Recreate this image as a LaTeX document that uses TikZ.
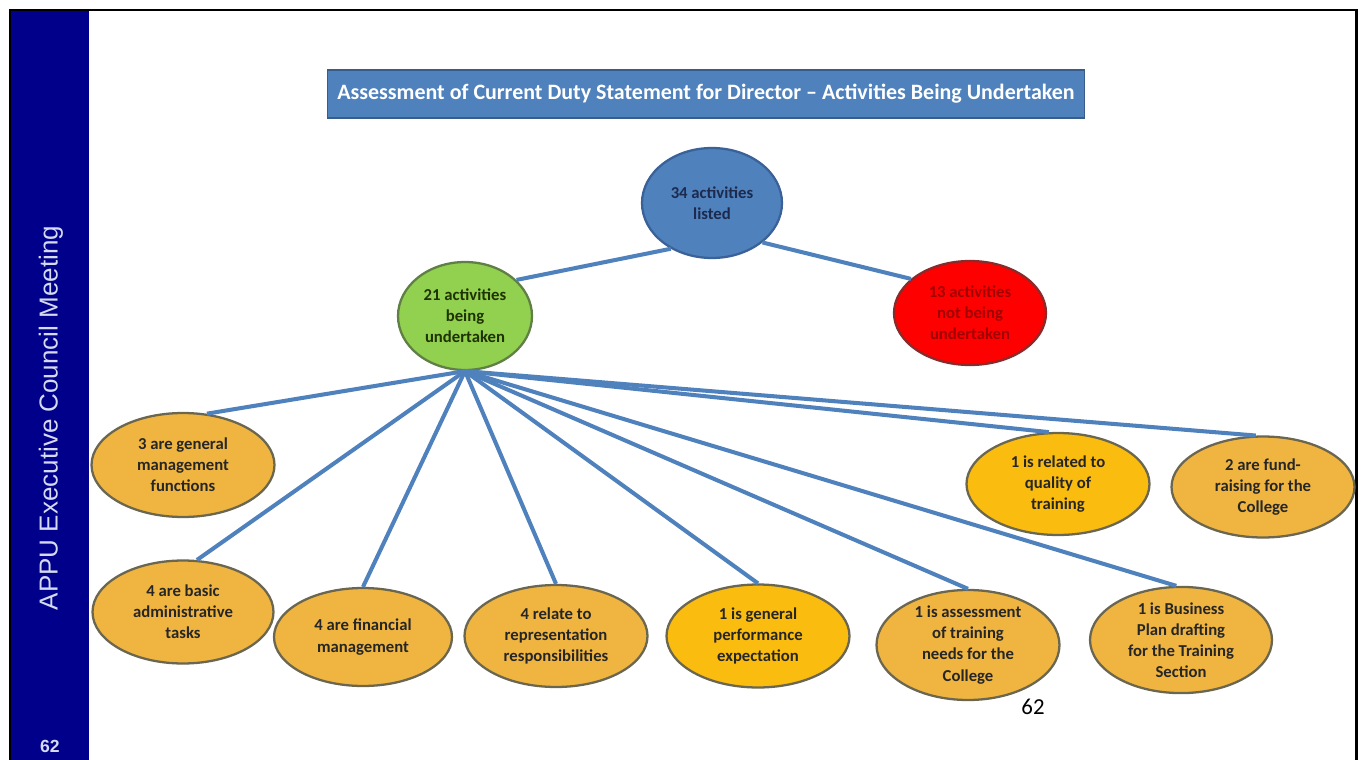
\documentclass[tikz,border=0pt]{standalone}
\usepackage{fontspec}
\setmainfont{Carlito}
\newfontfamily\sidefont{Liberation Sans}
\usepackage{tikz}
\usetikzlibrary{shapes.geometric}
\definecolor{sidenavy}{HTML}{00008B}
\definecolor{sidetext}{HTML}{D5DAF0}
\definecolor{titleblue}{HTML}{4F81BD}
\definecolor{titleedge}{HTML}{385D8A}
\definecolor{topedge}{HTML}{3A6298}
\definecolor{topink}{HTML}{1C2A4E}
\definecolor{donegreen}{HTML}{92D050}
\definecolor{doneedge}{HTML}{5F7F45}
\definecolor{doneink}{HTML}{1E3300}
\definecolor{notred}{HTML}{FF0000}
\definecolor{notedge}{HTML}{8B2A2A}
\definecolor{notink}{HTML}{A00000}
\definecolor{leafgold}{HTML}{F0B540}
\definecolor{leafbright}{HTML}{FBBC10}
\definecolor{leafedge}{HTML}{6A6650}

\begin{document}
\begin{tikzpicture}[x=0.02cm, y=-0.02cm,
  oval/.style={ellipse, line width=1.3pt, align=center, inner sep=0pt, font=\bfseries\fontsize{9.5}{12}\selectfont},
  leaf/.style={oval, draw=leafedge, fill=leafgold, text=black!85},
  brightleaf/.style={oval, draw=leafedge, fill=leafbright, text=black!85},
  link/.style={draw=titleblue, line width=2.3pt}
]
\useasboundingbox (0,0) rectangle (1362,760);

% side bar and frame
\fill[sidenavy] (11,11) rectangle (89,760);
\draw[black, line width=1.7pt] (10,760) -- (10,10) -- (1356,10) -- (1356,760);
\node[rotate=90, text=sidetext, font=\sidefont\fontsize{14.8}{17}\selectfont] (side) at (51,418) {APPU Executive Council Meeting};
\node[text=sidetext, font=\sidefont\bfseries\fontsize{10}{12}\selectfont] (sidenum) at (50,746) {62};

% title
\node[fill=titleblue, draw=titleedge, line width=1pt, minimum width=15.14cm, minimum height=0.96cm, text=white, font=\bfseries\fontsize{12.5}{14}\selectfont] (title) at (706,94) {Assessment of Current Duty Statement for Director -- Activities Being Undertaken};

% top of the tree
\node[oval, draw=topedge, fill=titleblue, text=topink, minimum width=2.8cm, minimum height=2.2cm] (listed) at (712,203) {34 activities\\listed};
\node[oval, draw=doneedge, fill=donegreen, text=doneink, minimum width=2.68cm, minimum height=2.16cm] (done) at (465,316) {21 activities\\being\\undertaken};
\node[oval, draw=notedge, fill=notred, text=notink, minimum width=3.04cm, minimum height=2.08cm] (notdone) at (970,313) {13 activities\\not being\\undertaken};

% leaves
\node[leaf, minimum width=3.66cm, minimum height=2.08cm] (general) at (183,465) {3 are general\\management\\functions};
\node[leaf, minimum width=3.62cm, minimum height=2.06cm] (admin) at (183,612) {4 are basic\\administrative\\tasks};
\node[leaf, minimum width=3.56cm, minimum height=1.96cm] (finance) at (363,637) {4 are financial\\management};
\node[leaf, minimum width=3.66cm, minimum height=2.04cm] (repr) at (556,636) {4 relate to\\representation\\responsibilities};
\node[brightleaf, minimum width=3.66cm, minimum height=2.06cm] (perf) at (758,636) {1 is  general\\performance\\expectation};
\node[leaf, minimum width=3.66cm, minimum height=2.08cm] (needs) at (968,645) {1 is assessment\\of training\\needs for  the\\College};
\node[leaf, minimum width=3.64cm, minimum height=1.9cm] (plan) at (1181,640) {1 is Business\\Plan drafting\\for the Training\\Section};
\node[brightleaf, minimum width=3.66cm, minimum height=2.04cm] (quality) at (1058,484) {1 is related to\\quality of\\training};
\node[leaf, minimum width=3.66cm, minimum height=2.02cm] (fund) at (1263,487) {2 are fund-\\raising for the\\College};

% connectors
\draw[link] (listed.228) -- (done.35);
\draw[link] (listed.322) -- (notdone.150);
\draw[link] (done.south) -- (general.65);
\draw[link] (done.south) -- (admin.75);
\draw[link] (done.south) -- (finance.north);
\draw[link] (done.south) -- (repr.north);
\draw[link] (done.south) -- (perf.north);
\draw[link] (done.south) -- (needs.north);
\draw[link] (done.south) -- (plan.95);
\draw[link] (done.south) -- (quality.100);
\draw[link] (done.south) -- (fund.98);

\node[font=\fontsize{13}{15}\selectfont] (pagenum) at (1033,707) {62};
\end{tikzpicture}
\end{document}
